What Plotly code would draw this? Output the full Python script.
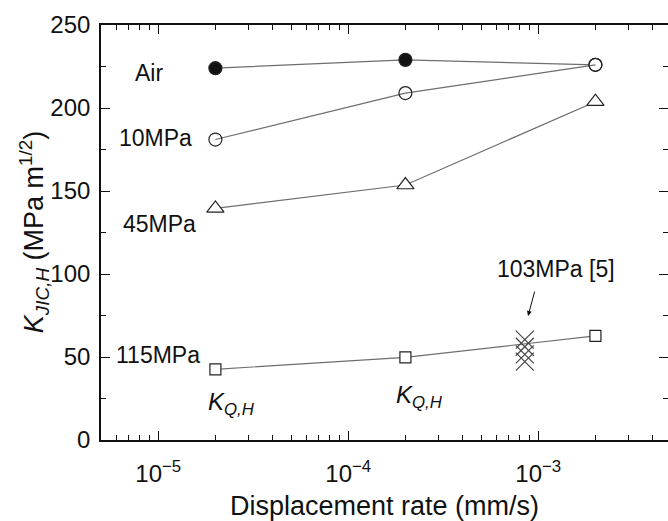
import numpy as np
import plotly.graph_objects as go

# ---- data ----
rates = [2e-5, 2e-4, 2e-3]
air = [224, 229, 226]
mpa10 = [181, 209, 226]
mpa45 = [139.5, 153.6, 203.8]
mpa115 = [42.6, 49.8, 62.7]
ref103_x = [8.5e-4, 8.5e-4, 8.5e-4, 8.5e-4]
ref103_y = [60.5, 56.2, 51.6, 47.2]

x_major = [1e-5, 1e-4, 1e-3]
x_major_text = ["10<sup>\u22125</sup>", "10<sup>\u22124</sup>", "10<sup>\u22123</sup>"]
x_minor = [m * d for d in [1e-6, 1e-5, 1e-4, 1e-3] for m in range(2, 10)]

FONT = "Liberation Sans, Arial, sans-serif"
LINE = "#6e6e6e"
EDGE = "#222222"

fig = go.Figure()

def series(y, symbol, size, fill):
    fig.add_trace(go.Scatter(
        x=rates, y=y, mode="lines+markers",
        line=dict(color=LINE, width=1.2),
        marker=dict(symbol=symbol, size=size, color=fill,
                    line=dict(color=EDGE, width=1.2)),
        showlegend=False, hoverinfo="skip"))

series(air, "circle", 13, ["#111111", "#111111", "white"])
series(mpa10, "circle-open", 13, EDGE)
series(mpa45, "triangle-up", 15, "white")
series(mpa115, "square", 11, "white")

fig.add_trace(go.Scatter(
    x=ref103_x, y=ref103_y, mode="markers",
    marker=dict(symbol="x-thin", size=18, line=dict(color="#444444", width=1.2)),
    showlegend=False, hoverinfo="skip"))

# invisible trace to carry the right-hand y ticks
fig.add_trace(go.Scatter(x=[1e-5], y=[0], yaxis="y2", mode="markers",
                         marker=dict(opacity=0), showlegend=False, hoverinfo="skip"))

xr = [np.log10(5e-6), -2.317]

fig.update_layout(
    width=668, height=521,
    margin=dict(l=101, r=0, t=25, b=81, autoexpand=False),
    paper_bgcolor="white", plot_bgcolor="white",
    font=dict(family=FONT, color="#111111"),
    xaxis=dict(
        type="log", range=xr, automargin=False,
        tickmode="array", tickvals=x_major, ticktext=x_major_text,
        ticks="inside", ticklen=9, tickwidth=1.3, tickcolor="#111",
        showline=True, linecolor="#111", linewidth=1.6, mirror="ticks",
        showgrid=False, zeroline=False,
        tickfont=dict(size=24, family=FONT),
        ticklabelstandoff=11,
        minor=dict(tickmode="array", tickvals=x_minor, ticks="inside",
                   ticklen=5, tickwidth=1.1, tickcolor="#111", showgrid=False),
        title=dict(text="Displacement rate (mm/s)", font=dict(size=27, family=FONT),
                   standoff=23),
    ),
    yaxis=dict(
        range=[0, 250], tickmode="linear", tick0=0, dtick=50, automargin=False,
        ticks="inside", ticklen=9, tickwidth=1.3, tickcolor="#111",
        showline=True, linecolor="#111", linewidth=1.6, mirror=False,
        showgrid=False, zeroline=False,
        tickfont=dict(size=24, family=FONT),
        ticklabelstandoff=4,
        minor=dict(dtick=25, ticks="inside", ticklen=5, tickwidth=1.1,
                   tickcolor="#111", showgrid=False),
    ),
    yaxis2=dict(
        range=[0, 250], overlaying="y", side="right", tickmode="linear",
        automargin=False,
        tick0=0, dtick=50, ticks="inside", ticklen=9, tickwidth=1.3,
        tickcolor="#111", showline=False, showgrid=False, zeroline=False,
        showticklabels=False,
        minor=dict(dtick=25, ticks="inside", ticklen=5, tickwidth=1.1,
                   tickcolor="#111", showgrid=False),
    ),
)

def label(text, x, y, size=23):
    fig.add_annotation(x=np.log10(x), y=y, xref="x", yref="y", text=text,
                       showarrow=False, font=dict(size=size, family=FONT, color="#111"),
                       xanchor="center", yanchor="middle")

label("Air", 8.95e-6, 221.0)
label("10MPa", 9.73e-6, 182.0)
label("45MPa", 1.01e-5, 130.0)
label("115MPa", 9.92e-6, 51.5)
label("<i>K</i><sub><i>Q,H</i></sub>", 2.445e-5, 22.0, 24)
label("<i>K</i><sub><i>Q,H</i></sub>", 2.36e-4, 26.0, 24)
label("103MPa [5]", 1.24e-3, 103.0)

fig.add_annotation(x=np.log10(8.84e-4), y=74.7, xref="x", yref="y", text="",
                   showarrow=True, ax=7, ay=-26, arrowhead=2, arrowsize=1,
                   arrowwidth=1, arrowcolor="#111")

fig.add_annotation(x=-0.118, y=0.501, xref="paper", yref="paper",
                   text="<i>K</i><sub><i>JIC,H</i></sub> (MPa m<sup>1/2</sup>)",
                   textangle=-90, showarrow=False,
                   font=dict(size=27, family=FONT, color="#111"),
                   xanchor="center", yanchor="middle")

fig.write_html("out.html",
               config={"displayModeBar": False},
               post_script="document.body.style.margin='0';"
                           "document.body.style.overflow='hidden';")
